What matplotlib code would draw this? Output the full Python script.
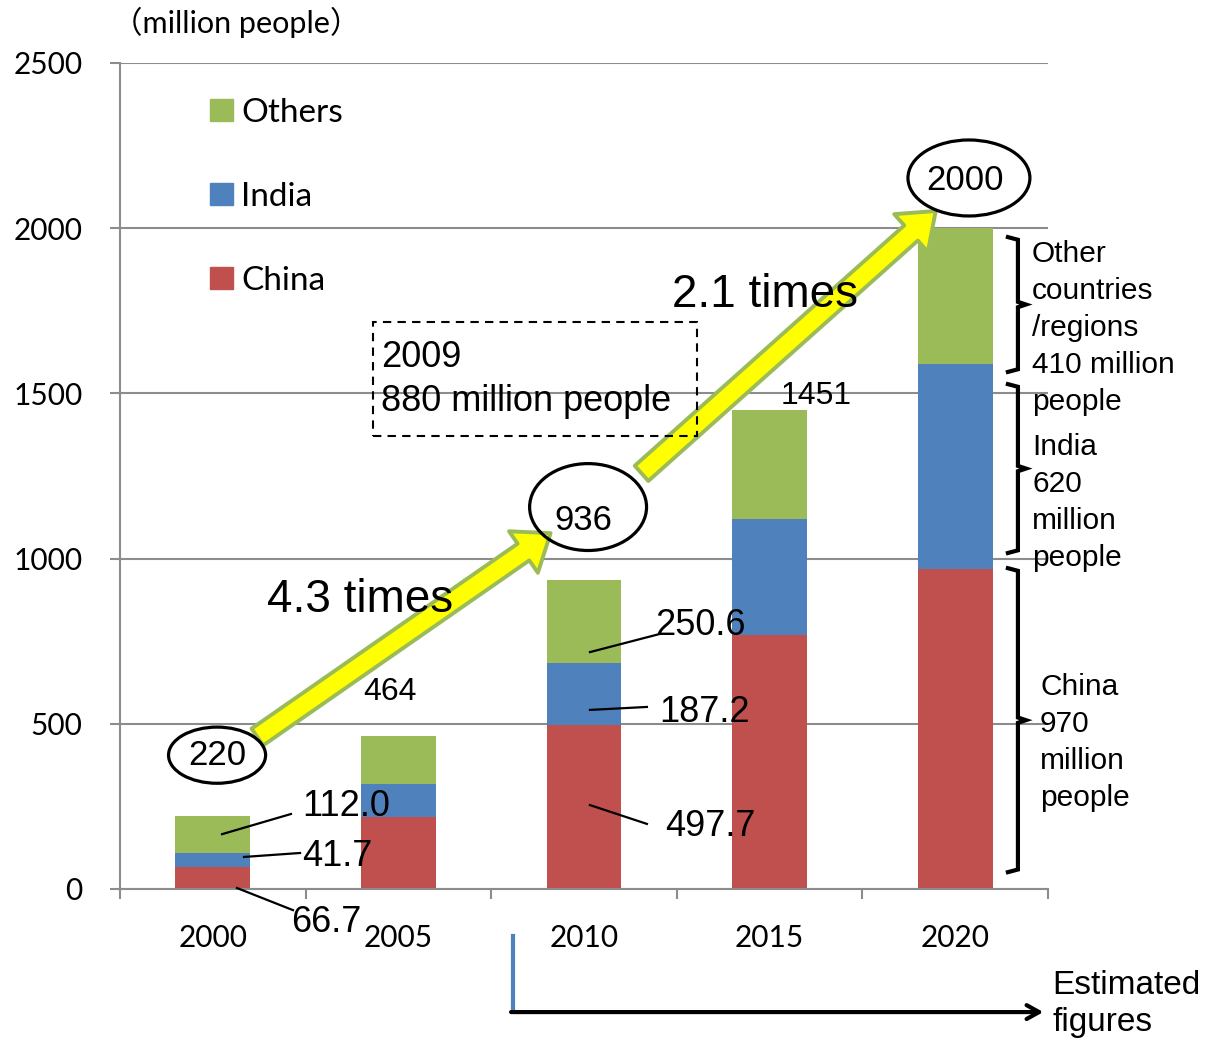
import numpy as np
import matplotlib.pyplot as plt
from matplotlib.patches import Ellipse, Rectangle, FancyArrowPatch, Patch
from matplotlib.transforms import blended_transform_factory

# middle-class population by region (million people)
years = ['2000', '2005', '2010', '2015', '2020']
china = [66.7, 218, 497.7, 769, 970]
india = [41.7, 100, 187.2, 352, 620]
others = [112.0, 146, 250.6, 330, 410]
totals = [220, 464, 936, 1451, 2000]

RED = '#C0504D'
BLUE = '#4F81BD'
GREEN = '#9BBB59'
GRID = '#8c8c8c'
ARIAL = ['Liberation Sans', 'DejaVu Sans']
BODY = ['Lato', 'Noto Sans CJK JP', 'DejaVu Sans']

fig = plt.figure(figsize=(12.08, 10.42), dpi=100)
ax = fig.add_axes([120 / 1208, 153 / 1042, 928 / 1208, 826 / 1042])

x = np.arange(len(years))
c = np.array(china)
ci = c + np.array(india)
bw = 0.404
ax.bar(x, china, width=bw, color=RED, zorder=2)
ax.bar(x, india, width=bw, bottom=c, color=BLUE, zorder=2)
ax.bar(x, others, width=bw, bottom=ci, color=GREEN, zorder=2)

ax.set_xlim(-0.5, 4.5)
ax.set_ylim(0, 2500)
ax.set_yticks(range(0, 2501, 500))
ax.set_xticks(x)
ax.set_xticklabels(years)
ax.set_xticks(np.arange(-0.5, 5, 1), minor=True)
ax.tick_params(axis='x', which='major', length=0, pad=25)
ax.tick_params(axis='x', which='minor', length=7, color=GRID, width=1.5)
ax.tick_params(axis='y', length=7, color=GRID, width=1.5, pad=20)
for lab in ax.get_xticklabels() + ax.get_yticklabels():
    lab.set_fontfamily(BODY)
    lab.set_fontsize(21.5)
ax.yaxis.grid(True, color=GRID, lw=1.5)
ax.set_axisbelow(True)
for s in ['top', 'right']:
    ax.spines[s].set_visible(False)
for s in ['left', 'bottom']:
    ax.spines[s].set_color(GRID)
    ax.spines[s].set_linewidth(1.5)

fig.text(112 / 1208, 1 - 22 / 1042, '（million people）', fontsize=22,
         family=BODY, va='center', ha='left')

handles = [Patch(color=GREEN), Patch(color=BLUE), Patch(color=RED)]
ax.legend(handles, ['Others', 'India', 'China'], loc='upper left',
          bbox_to_anchor=(0.097, 0.958), frameon=False, borderpad=0,
          borderaxespad=0, handlelength=0.68, handleheight=0.68,
          handletextpad=0.25, labelspacing=1.62,
          prop={'family': BODY, 'size': 24})

# growth arrows
for tail, tip in [((0.24, 460), (1.82, 1077)), ((2.31, 1258), (3.895, 2052))]:
    ax.add_patch(FancyArrowPatch(tail, tip, mutation_scale=14,
                                 arrowstyle='simple,head_length=1.7,head_width=2.6,tail_width=1.05',
                                 facecolor='#FFFF00', edgecolor=GREEN, lw=2.8,
                                 shrinkA=0, shrinkB=0, zorder=4))

# circled totals
for (cx, cy, w, h), (tx, ty), val in [((0.023, 405, 0.523, 170), (0.023, 405), totals[0]),
                                      ((2.022, 1156, 0.63, 263), (1.995, 1114), totals[2]),
                                      ((4.074, 2152, 0.657, 230), (4.053, 2143), totals[4])]:
    ax.add_patch(Ellipse((cx, cy), w, h, fill=False, edgecolor='black',
                         lw=2.3, zorder=5, clip_on=False))
    ax.text(tx, ty, str(val), fontsize=25, family=ARIAL, ha='center',
            va='center', zorder=6)

ax.text(0.955, 596, str(totals[1]), fontsize=23, family=ARIAL,
        ha='center', va='center', zorder=6)
ax.text(3.25, 1492, str(totals[3]), fontsize=23, family=ARIAL,
        ha='center', va='center', zorder=6)

# segment value labels with leader lines
seg_labels = [
    ('%.1f' % others[0], (0.718, 251), (0.050, 166), (0.421, 227)),
    ('%.1f' % india[0], (0.669, 97), (0.168, 97), (0.470, 109)),
    ('%.1f' % china[0], (0.610, -100), (0.130, 3), (0.432, -64)),
    ('%.1f' % others[2], (2.625, 799), (2.032, 717), (2.409, 772)),
    ('%.1f' % india[2], (2.652, 533), (2.032, 542), (2.339, 551)),
    ('%.1f' % china[2], (2.679, 188), (2.032, 254), (2.339, 197)),
]
for txt, (lx, ly), p0, p1 in seg_labels:
    ax.plot([p0[0], p1[0]], [p0[1], p1[1]], color='black', lw=1.6,
            zorder=5, clip_on=False)
    ax.text(lx, ly, txt, fontsize=26, family=ARIAL, ha='center',
            va='center', zorder=6, clip_on=False)

ax.text(0.793, 875, '4.3 times', fontsize=33, family=ARIAL,
        ha='center', va='center', zorder=6)
ax.text(2.975, 1798, '2.1 times', fontsize=33, family=ARIAL,
        ha='center', va='center', zorder=6)

# 2009 callout box
ax.add_patch(Rectangle((0.863, 1371), 2.609 - 0.863, 1716 - 1371, fill=False,
                       edgecolor='black', lw=1.5, ls=(0, (4, 3)), zorder=5))
ax.text(0.906, 1610, '2009', fontsize=26, family=ARIAL, va='center', zorder=6)
ax.text(0.906, 1474, '880 million people', fontsize=26, family=ARIAL,
        va='center', zorder=6)

# braces beside the 2020 bar
bx, arm, nub = 4.338, 4.284, 4.381
for lo, hi in [(1565, 1973), (1017, 1528), (51, 971)]:
    mid = (lo + hi) / 2
    ax.plot([arm, bx, bx, nub, bx, bx, arm],
            [hi, hi - 8, mid + 8, mid, mid - 8, lo + 8, lo],
            color='black', lw=3, clip_on=False, zorder=5,
            solid_joinstyle='miter')

side = dict(fontsize=21.5, family=ARIAL, va='center', linespacing=1.4,
            clip_on=False)
ax.text(4.414, 1698, 'Other\ncountries\n/regions\n%d million\npeople' % others[4], **side)
ax.text(4.414, 1170, 'India\n%d\nmillion\npeople' % india[4], **side)
ax.text(4.457, 443, 'China\n%d\nmillion\npeople' % china[4], **side)

# estimated-figures marker under the axis
trans = blended_transform_factory(ax.transData, ax.transAxes)
ax.plot([1.617, 1.617], [-0.057, -0.1465], color=BLUE, lw=3,
        transform=trans, clip_on=False)
ax.annotate('', xy=(4.475, -0.149), xytext=(1.607, -0.149),
            xycoords=trans, textcoords=trans,
            arrowprops=dict(arrowstyle='->,head_length=0.9,head_width=0.5',
                            color='black', lw=3, shrinkA=0, shrinkB=0))
ax.text(4.522, -0.139, 'Estimated\nfigures', fontsize=24, family=ARIAL,
        va='center', transform=trans, linespacing=1.25, clip_on=False)

fig.savefig('out.png', dpi=100)
